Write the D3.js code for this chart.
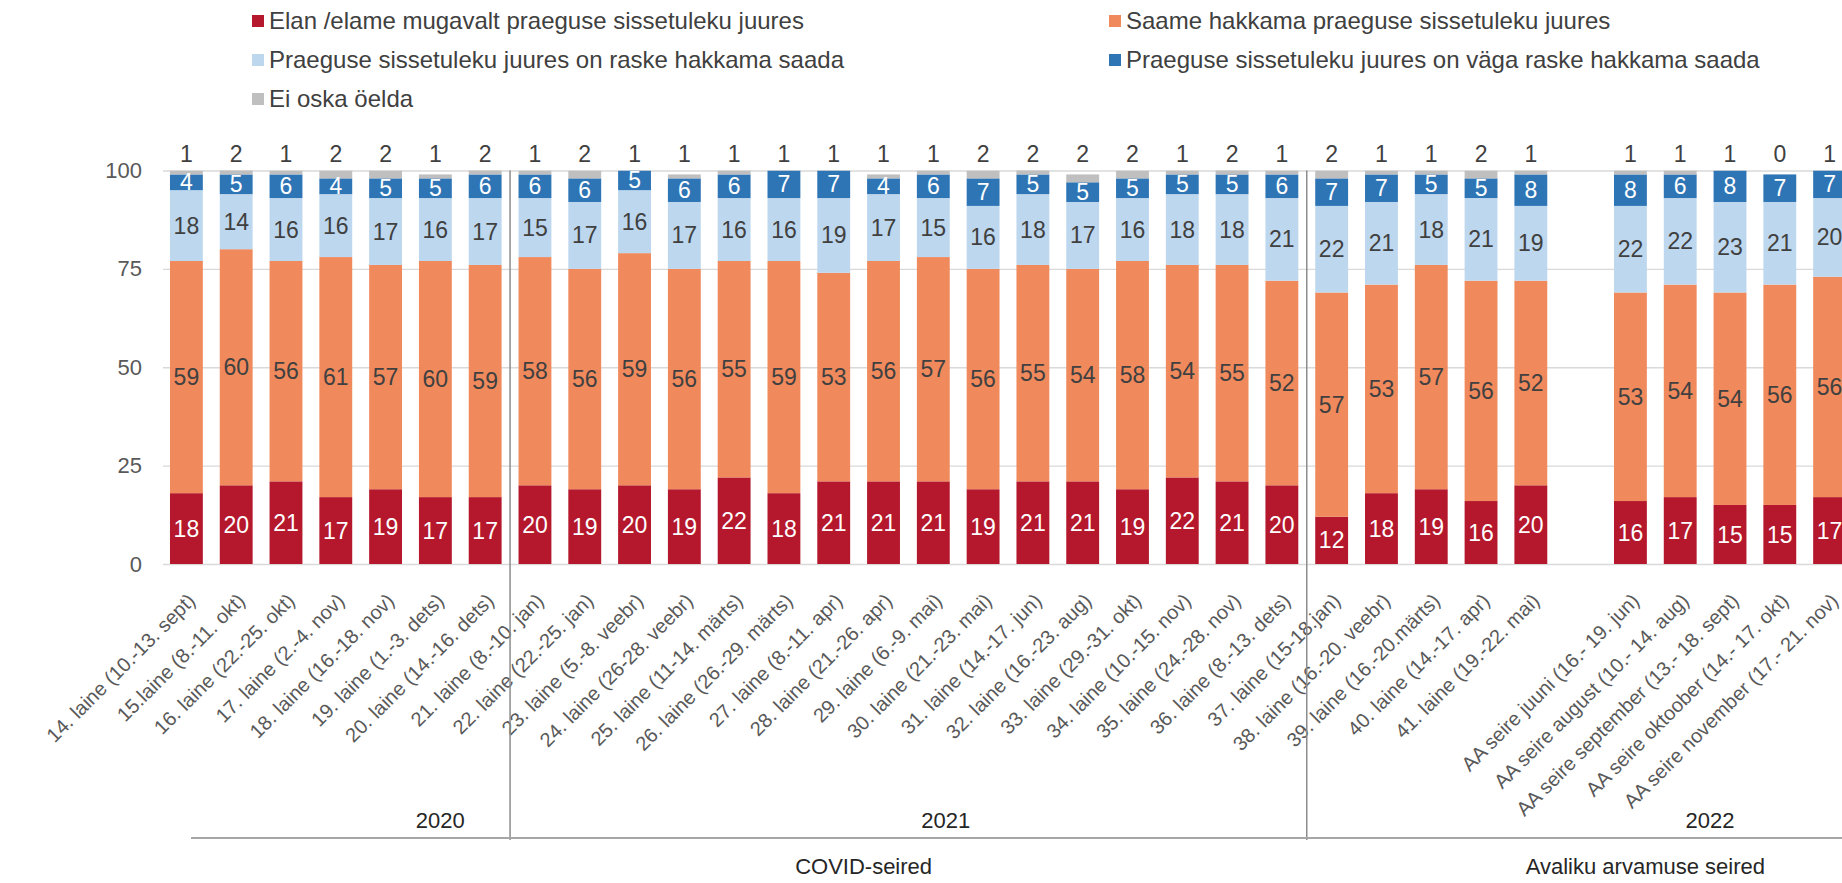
<!DOCTYPE html>
<html>
<head>
<meta charset="utf-8">
<script src="https://cdnjs.cloudflare.com/ajax/libs/d3/7.8.5/d3.min.js"></script>
<style>
  body { margin: 0; background: #ffffff; }
  svg { display: block; font-family: 'Liberation Sans', Arial, sans-serif; }
</style>
</head>
<body>
<div id="chart"></div>
<script>
var categories = [
  '14. laine (10.-13. sept)', '15.laine (8.-11. okt)', '16. laine (22.-25. okt)', '17. laine (2.-4. nov)',
  '18. laine (16.-18. nov)', '19. laine (1.-3. dets)', '20. laine (14.-16. dets)',
  '21. laine (8.-10. jan)', '22. laine (22.-25. jan)', '23. laine (5.-8. veebr)', '24. laine (26-28. veebr)',
  '25. laine (11-14. märts)', '26. laine (26.-29. märts)', '27. laine (8.-11. apr)', '28. laine (21.-26. apr)',
  '29. laine (6.-9. mai)', '30. laine (21.-23. mai)', '31. laine (14.-17. jun)', '32. laine (16.-23. aug)',
  '33. laine (29.-31. okt)', '34. laine (10.-15. nov)', '35. laine (24.-28. nov)', '36. laine (8.-13. dets)',
  '37. laine (15-18.jan)', '38. laine (16.-20. veebr)', '39. laine (16.-20.märts)', '40. laine (14.-17. apr)',
  '41. laine (19.-22. mai)', '',
  'AA seire juuni (16.- 19. jun)', 'AA seire august (10.- 14. aug)', 'AA seire september (13.- 18. sept)',
  'AA seire oktoober (14.- 17. okt)', 'AA seire november (17.- 21. nov)'
];

var mugavalt = [18, 20, 21, 17, 19, 17, 17,
  20, 19, 20, 19, 22, 18, 21, 21, 21, 19, 21, 21, 19, 22, 21, 20,
  12, 18, 19, 16, 20, null, 16, 17, 15, 15, 17];
var hakkama = [59, 60, 56, 61, 57, 60, 59,
  58, 56, 59, 56, 55, 59, 53, 56, 57, 56, 55, 54, 58, 54, 55, 52,
  57, 53, 57, 56, 52, null, 53, 54, 54, 56, 56];
var raske = [18, 14, 16, 16, 17, 16, 17,
  15, 17, 16, 17, 16, 16, 19, 17, 15, 16, 18, 17, 16, 18, 18, 21,
  22, 21, 18, 21, 19, null, 22, 22, 23, 21, 20];
var vagaRaske = [4, 5, 6, 4, 5, 5, 6,
  6, 6, 5, 6, 6, 7, 7, 4, 6, 7, 5, 5, 5, 5, 5, 6,
  7, 7, 5, 5, 8, null, 8, 6, 8, 7, 7];
var eiOska = [1, 2, 1, 2, 2, 1, 2,
  1, 2, 1, 1, 1, 1, 1, 1, 1, 2, 2, 2, 2, 1, 2, 1,
  2, 1, 1, 2, 1, null, 1, 1, 1, 0, 1];

var seriesNames = [
  'Elan /elame mugavalt praeguse sissetuleku juures',
  'Saame hakkama praeguse sissetuleku juures',
  'Praeguse sissetuleku juures on raske hakkama saada',
  'Praeguse sissetuleku juures on väga raske hakkama saada',
  'Ei oska öelda'
];

var yearNames = ['2020', '2021', '2022'];
var yearFirstCategory = [0, 7, 23];
var surveyNames = ['COVID-seired', 'Avaliku arvamuse seired'];

var yTicks = [0, 25, 50, 75, 100];

// styles
var colors = ['#B5172C', '#F08A5D', '#BDD7EE', '#2E75B6', '#BFBFBF'];
var labelColors = ['#ffffff', '#404040', '#404040', '#ffffff', '#404040'];

// **********		Build		************************************************************ //
function build() {
  var width = 1842, height = 883;
  var left = 163, right = 1853, top = 170.5, bottom = 564;
  var lineY = 838;

  var svg = d3.select('#chart').append('svg')
    .attr('width', width)
    .attr('height', height);

  var x = d3.scaleBand()
    .domain(categories)
    .range([left, right])
    .paddingInner(0.34)
    .paddingOuter(0.14);
  var y = d3.scaleLinear()
    .domain([0, 100])
    .range([bottom, top]);

  var step = x.step();
  function xAt(i) {
    return x(categories[0]) + x.bandwidth() / 2 + i * step;
  }

  // grid + y labels
  var yAxis = svg.append('g')
    .attr('transform', 'translate(' + left + ',0)')
    .call(d3.axisLeft(y).tickValues(yTicks).tickSize(-(right - left)).tickPadding(21));
  yAxis.select('.domain').remove();
  yAxis.selectAll('line').attr('stroke', '#D9D9D9').attr('stroke-width', 1.3);
  yAxis.selectAll('text')
    .attr('fill', '#595959')
    .style('font-size', '22px')
    .style('font-family', "'Liberation Sans', Arial, sans-serif");

  var rows = categories.map(function (c, i) {
    return { cat: c, v0: mugavalt[i], v1: hakkama[i], v2: raske[i], v3: vagaRaske[i], v4: eiOska[i] };
  });
  var keys = ['v0', 'v1', 'v2', 'v3', 'v4'];
  var stacked = d3.stack()
    .keys(keys)
    .value(function (d, k) { return d[k] || 0; })(rows);

  svg.append('clipPath').attr('id', 'plotClip')
    .append('rect')
    .attr('x', left).attr('y', top)
    .attr('width', right - left).attr('height', bottom - top);

  var bars = svg.append('g').attr('clip-path', 'url(#plotClip)');
  bars.selectAll('g')
    .data(stacked)
    .enter().append('g')
    .attr('fill', function (d, i) { return colors[i]; })
    .selectAll('rect')
    .data(function (d) { return d.filter(function (p) { return p.data[d.key] != null; }); })
    .enter().append('rect')
    .attr('x', function (d) { return x(d.data.cat); })
    .attr('width', x.bandwidth())
    .attr('y', function (d) { return y(d[1]); })
    .attr('height', function (d) { return y(d[0]) - y(d[1]); });

  // data labels
  var labels = svg.append('g')
    .attr('text-anchor', 'middle')
    .style('font-size', '23px');
  stacked.forEach(function (s, si) {
    labels.selectAll('.lbl' + si)
      .data(s.filter(function (p) { return p.data[s.key] != null; }))
      .enter().append('text')
      .attr('class', 'lbl' + si)
      .attr('x', function (d) { return x(d.data.cat) + x.bandwidth() / 2; })
      .attr('y', function (d) {
        if (si === 4) return y(100) - 9;
        return y((d[0] + d[1]) / 2);
      })
      .attr('dy', si === 4 ? 0 : '0.35em')
      .attr('fill', labelColors[si])
      .text(function (d) { return d.data[s.key]; });
  });

  // category labels
  var xAxis = svg.append('g')
    .attr('transform', 'translate(0,' + bottom + ')')
    .call(d3.axisBottom(x).tickSize(0));
  xAxis.select('.domain').remove();
  xAxis.selectAll('text')
    .attr('y', 0)
    .attr('dy', '0.35em')
    .attr('text-anchor', 'end')
    .attr('transform', 'translate(5,33) rotate(-45)')
    .attr('fill', '#595959')
    .style('font-size', '20px')
    .style('font-family', "'Liberation Sans', Arial, sans-serif");

  // group separators
  var sepX = yearFirstCategory.slice(1).map(function (i) {
    return x(categories[i]) - step * x.paddingInner() / 2;
  });
  svg.selectAll('.sep')
    .data(sepX)
    .enter().append('line')
    .attr('class', 'sep')
    .attr('x1', function (d) { return d; })
    .attr('x2', function (d) { return d; })
    .attr('y1', top)
    .attr('y2', lineY + 2)
    .attr('stroke', '#8C8C8C')
    .attr('stroke-width', 1.5);

  svg.append('line')
    .attr('x1', 191).attr('x2', width)
    .attr('y1', lineY).attr('y2', lineY)
    .attr('stroke', '#A6A6A6')
    .attr('stroke-width', 2);

  // year + survey labels
  var yearAt = [5.1, 15.25, 30.6];
  svg.selectAll('.year')
    .data(yearNames)
    .enter().append('text')
    .attr('class', 'year')
    .attr('x', function (d, i) { return xAt(yearAt[i]); })
    .attr('y', 828)
    .attr('text-anchor', 'middle')
    .attr('fill', '#262626')
    .style('font-size', '22px')
    .text(function (d) { return d; });

  var surveyAt = [13.6, 29.3];
  svg.selectAll('.survey')
    .data(surveyNames)
    .enter().append('text')
    .attr('class', 'survey')
    .attr('x', function (d, i) { return xAt(surveyAt[i]); })
    .attr('y', 874)
    .attr('text-anchor', 'middle')
    .attr('fill', '#262626')
    .style('font-size', '22px')
    .text(function (d) { return d; });

  // legend
  var legendPos = [[252, 21], [1109, 21], [252, 60], [1109, 60], [252, 99]];
  var legend = svg.append('g').style('font-size', '24px');
  var item = legend.selectAll('g')
    .data(seriesNames)
    .enter().append('g')
    .attr('transform', function (d, i) { return 'translate(' + legendPos[i][0] + ',' + legendPos[i][1] + ')'; });
  item.append('rect')
    .attr('x', 0).attr('y', -6)
    .attr('width', 12).attr('height', 12)
    .attr('fill', function (d, i) { return colors[i]; });
  item.append('text')
    .attr('x', 17)
    .attr('dy', '0.35em')
    .attr('fill', '#404040')
    .text(function (d) { return d; });
}

build();
</script>
</body>
</html>
